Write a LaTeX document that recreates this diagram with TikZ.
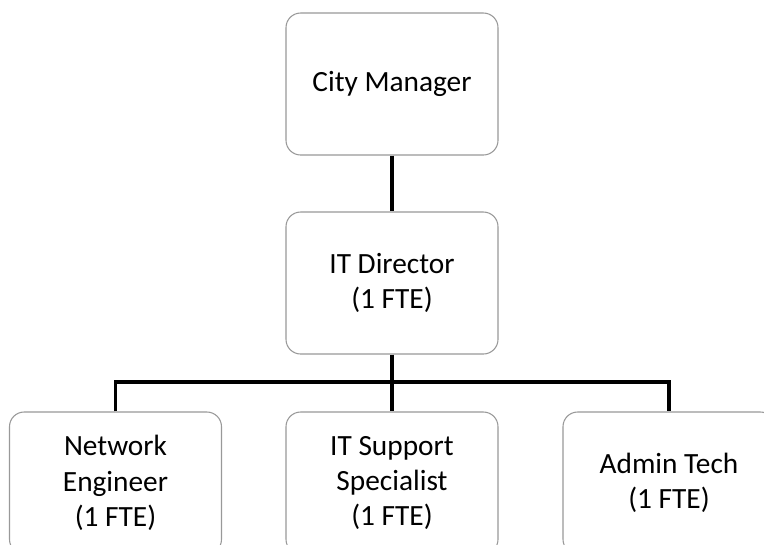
\documentclass[tikz,border=0pt]{standalone}
\usepackage{fontspec}
\setmainfont{Carlito}
\begin{document}
\begin{tikzpicture}[x=0.75pt,y=-0.75pt,
  posbox/.style={draw=black!40, line width=0.8pt, rounded corners=11pt, fill=white,
    minimum width=159pt, minimum height=106.5pt, align=center, inner sep=2pt,
    font=\fontsize{22pt}{26.6pt}\selectfont},
  link/.style={line width=2.3pt, black}]
\useasboundingbox (0,0) rectangle (764,544);
\clip (0,0) rectangle (764,544);
\fill[white] (0,0) rectangle (764,544);

\node[posbox] (cm)  at (392,84)  {City Manager};
\node[posbox] (dir) at (392,283) {IT Director\\(1 FTE)};
\node[posbox] (net) at (115.5,483) {Network\\Engineer\\(1 FTE)};
\node[posbox] (sup) at (392,483) {IT Support\\Specialist\\(1 FTE)};
\node[posbox] (adm) at (669,483) {Admin Tech\\(1 FTE)};

\coordinate (bus) at (392,382);

\draw[link] (cm.south) -- (dir.north);
\draw[link] (dir.south) -- (sup.north);
\draw[link] (net.north) |- (bus) -| (adm.north);
\end{tikzpicture}
\end{document}
